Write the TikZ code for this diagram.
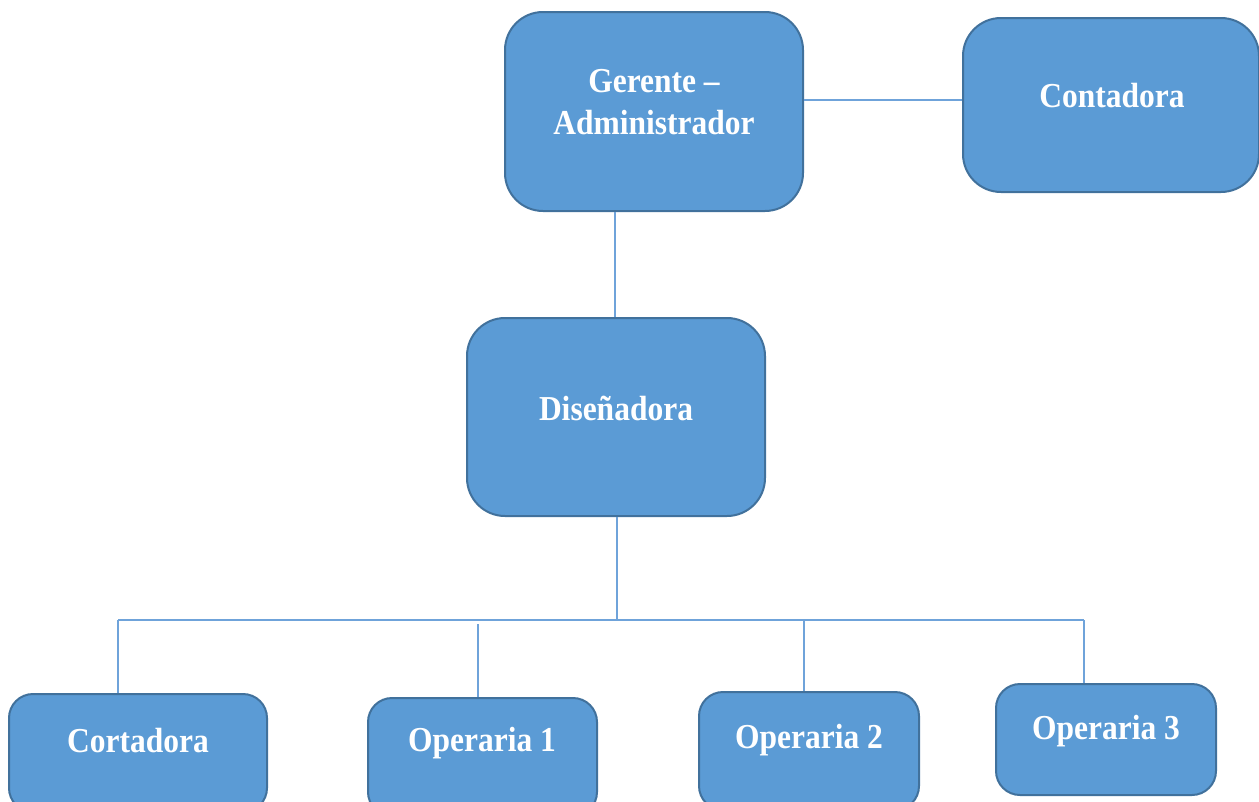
\documentclass[tikz,border=0pt]{standalone}
\usepackage{fontspec}
\usepackage{graphicx}
\setmainfont{Liberation Serif}
\newcommand\sqz[1]{\scalebox{0.9}[1]{#1}}
\definecolor{boxfill}{HTML}{5B9BD5}
\definecolor{boxline}{HTML}{41719C}
\definecolor{conn}{HTML}{6FA3DA}
\begin{document}
\begin{tikzpicture}[x=1pt,y=-1pt,
  box/.style={draw=boxline, fill=boxfill, line width=2pt, rounded corners=#1, inner sep=0pt},
  box/.default=38pt,
  lbl/.style={text=white, font=\fontsize{35}{42}\selectfont\bfseries, align=center, inner sep=0pt},
  link/.style={draw=conn, line width=1.4pt}]
\useasboundingbox (0,0) rectangle (1259,801);
\clip (0,0) rectangle (1259,801);
% boxes
\node[box, minimum width=298pt, minimum height=199pt] (ger) at (654,111.5) {};
\node[box, minimum width=296pt, minimum height=174pt] (con) at (1111,105) {};
\node[box, minimum width=298pt, minimum height=198pt] (dis) at (616,417) {};
\node[box=24pt, minimum width=258pt, minimum height=118pt] (cor) at (138,753) {};
\node[box=24pt, minimum width=229pt, minimum height=118pt] (op1) at (482.5,757) {};
\node[box=24pt, minimum width=220pt, minimum height=118pt] (op2) at (809,751) {};
\node[box=24pt, minimum width=220pt, minimum height=111pt] (op3) at (1106,739.5) {};
% labels
\node[lbl] (tger1) at (654,81) {\sqz{Gerente –}};
\node[lbl] (tger2) at (654,123) {\sqz{Administrador}};
\node[lbl] (tcon) at (1112,96) {\sqz{Contadora}};
\node[lbl] (tdis) at (616,408) {\sqz{Diseñadora}};
\node[lbl] (tcor) at (138,741) {\sqz{Cortadora}};
\node[lbl] (top1) at (482,743) {\sqz{Operaria 1}};
\node[lbl] (top2) at (809,740) {\sqz{Operaria 2}};
\node[lbl] (top3) at (1106,731) {\sqz{Operaria 3}};
% helper coordinates
\coordinate (xa) at (615,0);
\coordinate (xb) at (617,0);
\coordinate (y100) at (0,100);
\coordinate (busL) at (118,620);
\coordinate (busR) at (1084,620);
\coordinate (busM) at (617,620);
\coordinate (x478) at (478,624);
\coordinate (x804) at (804,620);
% connectors
\draw[link] (ger.east |- y100) -- (con.west |- y100);
\draw[link] (ger.south -| xa) -- (dis.north -| xa);
\draw[link] (dis.south -| xb) -- (busM);
\draw[link] (busL) -- (busR);
\draw[link] (busL) -- (cor.north -| busL);
\draw[link] (x478) -- (op1.north -| x478);
\draw[link] (x804) -- (op2.north -| x804);
\draw[link] (busR) -- (op3.north -| busR);
\end{tikzpicture}
\end{document}
